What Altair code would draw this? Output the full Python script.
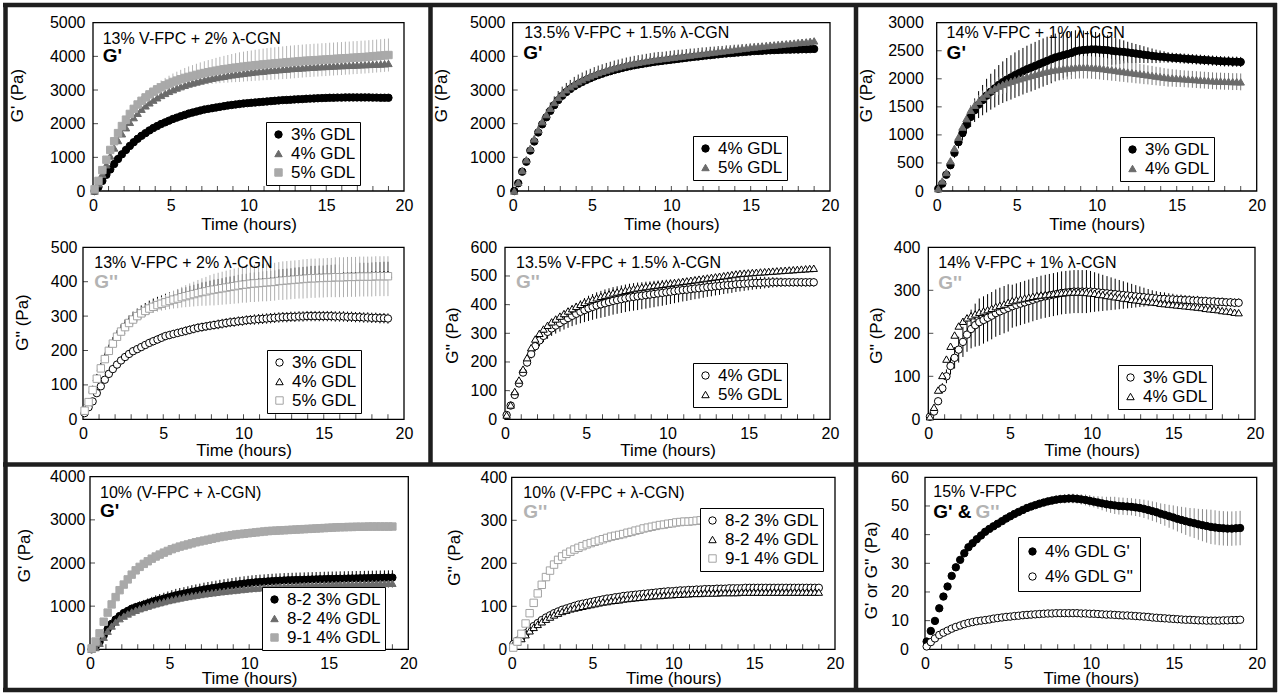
import altair as alt
import pandas as pd

# ---------------- data ----------------
TIME = [0.10, 0.35, 0.60, 0.86, 1.11, 1.36, 1.61, 1.86, 2.12, 2.37,
        2.62, 2.87, 3.12, 3.38, 3.63, 3.88, 4.13, 4.38, 4.64, 4.89,
        5.14, 5.39, 5.64, 5.90, 6.15, 6.40, 6.65, 6.90, 7.16, 7.41,
        7.66, 7.91, 8.16, 8.42, 8.67, 8.92, 9.17, 9.42, 9.68, 9.93,
        10.18, 10.43, 10.68, 10.94, 11.19, 11.44, 11.69, 11.94, 12.20, 12.45,
        12.70, 12.95, 13.20, 13.46, 13.71, 13.96, 14.21, 14.46, 14.72, 14.97,
        15.22, 15.47, 15.72, 15.98, 16.23, 16.48, 16.73, 16.98, 17.24, 17.49,
        17.74, 17.99, 18.24, 18.50, 18.75, 19.00]

# Panel 1: 13% V-FPC + 2% CGN, G'
P1_G3 = [0, 120, 300, 480, 640, 800, 950, 1090, 1220, 1340,
         1450, 1550, 1640, 1720, 1800, 1870, 1930, 1990, 2040, 2090,
         2140, 2180, 2220, 2260, 2300, 2330, 2360, 2390, 2420, 2440,
         2460, 2480, 2500, 2520, 2540, 2555, 2570, 2585, 2600, 2610,
         2620, 2630, 2640, 2650, 2660, 2670, 2680, 2690, 2700, 2705,
         2710, 2720, 2725, 2730, 2740, 2745, 2750, 2755, 2760, 2765,
         2770, 2770, 2775, 2775, 2780, 2780, 2780, 2780, 2780, 2780,
         2780, 2775, 2775, 2770, 2770, 2770]
P1_G4 = [0, 220, 500, 780, 1040, 1280, 1500, 1700, 1880, 2040,
         2180, 2310, 2430, 2530, 2620, 2700, 2770, 2840, 2900, 2960,
         3010, 3060, 3100, 3140, 3180, 3210, 3240, 3270, 3300, 3325,
         3350, 3370, 3390, 3410, 3430, 3450, 3465, 3480, 3495, 3510,
         3525, 3540, 3550, 3560, 3575, 3585, 3595, 3605, 3615, 3625,
         3635, 3645, 3650, 3660, 3665, 3675, 3680, 3690, 3695, 3700,
         3710, 3715, 3720, 3725, 3730, 3735, 3740, 3745, 3750, 3755,
         3760, 3765, 3770, 3775, 3780, 3790]
P1_G5 = [50, 300, 620, 930, 1220, 1480, 1720, 1930, 2120, 2290,
         2440, 2570, 2680, 2780, 2870, 2950, 3020, 3080, 3140, 3190,
         3240, 3280, 3320, 3360, 3390, 3420, 3450, 3480, 3505, 3530,
         3550, 3575, 3595, 3615, 3630, 3650, 3665, 3680, 3695, 3710,
         3720, 3735, 3745, 3760, 3770, 3780, 3790, 3800, 3810, 3820,
         3830, 3840, 3850, 3860, 3870, 3875, 3885, 3890, 3900, 3905,
         3915, 3920, 3930, 3935, 3945, 3950, 3960, 3965, 3975, 3980,
         3990, 4000, 4010, 4020, 4030, 4040]
P1_E5 = [20, 30, 40, 50, 60, 70, 80, 90, 100, 110,
         120, 130, 140, 150, 160, 175, 190, 205, 220, 235,
         250, 265, 280, 295, 310, 320, 330, 340, 350, 360,
         370, 380, 390, 400, 410, 420, 430, 440, 445, 450,
         455, 460, 465, 470, 475, 480, 480, 485, 485, 490,
         490, 490, 490, 490, 490, 490, 490, 490, 490, 490,
         490, 490, 490, 490, 490, 490, 490, 490, 490, 490,
         490, 490, 490, 490, 490, 490]

# Panel 2: 13% V-FPC + 2% CGN, G''
P2_G3 = [18, 35, 52, 76, 96, 115, 132, 146, 159, 171,
         181, 190, 198, 204, 210, 216, 222, 227, 232, 237,
         242, 245, 248, 251, 254, 257, 260, 263, 266, 268,
         270, 272, 274, 276, 278, 280, 282, 283, 285, 286,
         288, 289, 290, 291, 292, 293, 294, 295, 296, 297,
         297, 298, 298, 299, 299, 300, 300, 300, 300, 300,
         300, 300, 299, 299, 299, 298, 298, 297, 297, 296,
         296, 295, 295, 294, 294, 293]
P2_E3 = [2, 3, 4, 5, 6, 7, 8, 8, 9, 9,
         10, 10, 10, 11, 11, 11, 12, 12, 12, 12,
         12, 12, 12, 12, 12, 13, 13, 13, 13, 13,
         13, 13, 13, 14, 14, 14, 14, 14, 14, 14,
         14, 14, 15, 15, 15, 15, 15, 15, 15, 15,
         15, 15, 15, 15, 15, 15, 15, 15, 15, 15,
         15, 15, 15, 15, 15, 15, 15, 15, 15, 15,
         15, 15, 15, 15, 15, 15]
P2_G4 = [24, 52, 88, 122, 152, 179, 203, 224, 243, 259,
         272, 284, 294, 303, 311, 318, 325, 330, 335, 339,
         343, 347, 351, 354, 358, 361, 364, 367, 370, 373,
         375, 378, 380, 382, 384, 386, 388, 390, 392, 394,
         395, 397, 398, 399, 400, 401, 402, 403, 405, 406,
         407, 408, 409, 410, 411, 412, 413, 413, 414, 414,
         415, 415, 416, 416, 417, 417, 418, 418, 419, 419,
         419, 420, 420, 420, 421, 421]
P2_E4 = [4, 6, 8, 10, 12, 13, 14, 15, 16, 17,
         18, 18, 19, 19, 20, 20, 20, 21, 21, 21,
         22, 22, 22, 23, 23, 23, 24, 24, 24, 25,
         25, 25, 26, 26, 26, 27, 27, 27, 28, 28,
         28, 29, 29, 29, 30, 30, 30, 30, 31, 31,
         31, 31, 32, 32, 32, 32, 33, 33, 33, 33,
         34, 34, 34, 34, 35, 35, 35, 35, 36, 36,
         36, 36, 37, 37, 37, 37]
P2_G5 = [25, 50, 85, 118, 148, 175, 199, 220, 240, 255,
         268, 280, 290, 300, 308, 315, 322, 327, 332, 336,
         340, 344, 348, 351, 355, 358, 361, 364, 367, 370,
         372, 375, 377, 379, 381, 383, 385, 387, 389, 391,
         392, 394, 395, 396, 397, 398, 399, 400, 402, 403,
         404, 405, 406, 407, 408, 409, 410, 410, 411, 411,
         412, 412, 413, 413, 413, 414, 414, 414, 415, 415,
         415, 415, 416, 416, 416, 416]
P2_E5 = [5, 5, 6, 6, 7, 8, 9, 10, 10, 11,
         12, 12, 13, 14, 15, 16, 17, 18, 19, 20,
         22, 24, 26, 28, 30, 32, 34, 36, 38, 40,
         42, 44, 46, 47, 48, 49, 50, 51, 52, 52,
         53, 53, 54, 54, 54, 55, 55, 55, 55, 56,
         56, 56, 56, 56, 57, 57, 57, 57, 57, 57,
         57, 57, 58, 58, 58, 58, 58, 58, 58, 58,
         58, 58, 58, 58, 58, 58]

# Panel 3: 13.5% V-FPC + 1.5% CGN, G'
P3_G4 = [0, 230, 575, 870, 1200, 1470, 1740, 1980, 2190, 2380,
         2550, 2700, 2830, 2940, 3030, 3110, 3180, 3240, 3300, 3350,
         3400, 3445, 3485, 3525, 3560, 3595, 3625, 3655, 3685, 3710,
         3735, 3755, 3775, 3795, 3815, 3835, 3850, 3865, 3880, 3895,
         3910, 3925, 3940, 3955, 3970, 3985, 3995, 4010, 4025, 4035,
         4050, 4060, 4075, 4085, 4095, 4105, 4115, 4125, 4135, 4145,
         4155, 4160, 4165, 4175, 4180, 4185, 4190, 4195, 4200, 4200,
         4205, 4205, 4210, 4210, 4215, 4220]
P3_G5 = [0, 260, 610, 930, 1270, 1550, 1820, 2060, 2270, 2460,
         2630, 2780, 2900, 3010, 3100, 3180, 3250, 3310, 3370, 3420,
         3470, 3515, 3555, 3595, 3630, 3665, 3695, 3725, 3755, 3780,
         3805, 3825, 3845, 3865, 3885, 3905, 3920, 3935, 3950, 3965,
         3980, 3995, 4010, 4025, 4040, 4055, 4070, 4085, 4100, 4115,
         4130, 4145, 4160, 4175, 4190, 4205, 4220, 4235, 4250, 4265,
         4280, 4290, 4305, 4315, 4330, 4340, 4350, 4365, 4375, 4385,
         4395, 4410, 4420, 4430, 4445, 4460]
P3_E5 = [0, 20, 40, 60, 80, 100, 120, 140, 160, 170,
         180, 190, 200, 200, 200, 210, 210, 210, 210, 210,
         210, 210, 210, 210, 210, 210, 210, 210, 210, 210,
         210, 210, 210, 210, 210, 210, 210, 200, 200, 200,
         200, 200, 190, 190, 190, 180, 180, 180, 170, 170,
         160, 160, 150, 150, 140, 140, 130, 130, 120, 120,
         110, 110, 100, 100, 100, 90, 90, 90, 80, 80,
         80, 80, 80, 80, 80, 80]

# Panel 4: 13.5% V-FPC + 1.5% CGN, G''
P4_G4 = [15, 48, 85, 125, 163, 198, 228, 255, 275, 291,
         305, 317, 327, 336, 345, 353, 361, 368, 375, 381,
         387, 392, 397, 401, 405, 409, 413, 416, 419, 422,
         425, 427, 429, 431, 433, 435, 437, 439, 441, 443,
         445, 447, 449, 451, 452, 454, 456, 457, 459, 461,
         462, 464, 465, 467, 468, 469, 471, 472, 473, 474,
         475, 476, 476, 477, 477, 478, 478, 478, 478, 478,
         478, 478, 478, 478, 478, 478]
P4_E4 = [5, 6, 8, 10, 12, 14, 16, 18, 20, 22,
         24, 26, 28, 30, 32, 34, 36, 38, 40, 42,
         44, 45, 46, 47, 48, 48, 48, 48, 48, 48,
         48, 48, 48, 47, 47, 46, 46, 45, 45, 44,
         43, 42, 41, 40, 39, 38, 37, 36, 35, 34,
         33, 32, 31, 30, 29, 28, 27, 26, 25, 24,
         23, 22, 21, 20, 19, 18, 17, 16, 15, 15,
         15, 15, 15, 15, 15, 15]
P4_G5 = [15, 50, 97, 137, 175, 215, 250, 280, 300, 315,
         328, 340, 350, 360, 369, 378, 386, 394, 401, 408,
         414, 419, 424, 429, 433, 437, 441, 444, 447, 450,
         453, 456, 459, 461, 463, 465, 467, 469, 471, 473,
         475, 477, 479, 481, 483, 485, 487, 489, 491, 493,
         495, 497, 499, 501, 503, 505, 507, 509, 510, 511,
         512, 513, 514, 515, 516, 517, 518, 519, 520, 521,
         522, 523, 524, 525, 526, 527]

# Panel 5: 14% V-FPC + 1% CGN, G'
P5_G3 = [40, 130, 290, 460, 680, 870, 1030, 1180, 1320, 1440,
         1540, 1620, 1700, 1770, 1830, 1890, 1940, 1985, 2025, 2065,
         2100, 2135, 2170, 2200, 2230, 2260, 2290, 2320, 2350, 2380,
         2400, 2420, 2440, 2460, 2490, 2505, 2515, 2520, 2525, 2525,
         2520, 2515, 2510, 2500, 2490, 2485, 2480, 2470, 2460, 2450,
         2440, 2430, 2420, 2410, 2400, 2395, 2390, 2380, 2375, 2370,
         2365, 2360, 2355, 2350, 2345, 2340, 2335, 2330, 2325, 2320,
         2315, 2310, 2310, 2305, 2305, 2300]
P5_E3 = [10, 30, 50, 70, 90, 110, 130, 150, 180, 210,
         240, 270, 300, 320, 340, 355, 370, 385, 395, 405,
         410, 415, 420, 425, 428, 430, 430, 430, 430, 425,
         420, 410, 400, 390, 375, 360, 345, 330, 320, 310,
         295, 280, 265, 250, 235, 220, 205, 190, 180, 170,
         160, 150, 140, 130, 120, 110, 100, 95, 90, 90,
         90, 90, 90, 90, 90, 90, 90, 90, 90, 90,
         90, 90, 90, 90, 90, 90]
P5_G4 = [40, 180, 330, 540, 760, 960, 1140, 1290, 1440, 1530,
         1600, 1670, 1730, 1790, 1830, 1870, 1900, 1930, 1955, 1980,
         2000, 2020, 2040, 2060, 2080, 2100, 2120, 2135, 2150, 2160,
         2170, 2180, 2190, 2195, 2200, 2205, 2205, 2205, 2200, 2195,
         2190, 2180, 2170, 2160, 2150, 2140, 2130, 2120, 2110, 2100,
         2090, 2080, 2070, 2060, 2050, 2040, 2030, 2020, 2015, 2010,
         2005, 2000, 1995, 1990, 1985, 1980, 1975, 1970, 1965, 1960,
         1960, 1955, 1955, 1950, 1950, 1945]
P5_E4 = [10, 20, 30, 40, 50, 60, 70, 80, 90, 100,
         110, 120, 130, 140, 150, 160, 170, 180, 190, 200,
         200, 200, 200, 200, 200, 200, 200, 200, 200, 200,
         200, 200, 200, 200, 200, 200, 200, 200, 200, 200,
         200, 200, 195, 195, 190, 190, 185, 185, 180, 180,
         175, 175, 170, 170, 165, 165, 160, 160, 155, 155,
         150, 150, 150, 150, 150, 150, 150, 150, 150, 150,
         150, 150, 150, 150, 150, 150]

# Panel 6: 14% V-FPC + 1% CGN, G''
P6_G3 = [6, 18, 42, 72, 100, 124, 143, 162, 180, 197,
         210, 219, 226, 231, 236, 241, 247, 251, 255, 259,
         263, 266, 269, 272, 275, 278, 281, 284, 286, 288,
         290, 292, 294, 295, 296, 297, 297, 297, 297, 297,
         296, 295, 294, 293, 292, 291, 290, 289, 288, 287,
         286, 285, 284, 283, 282, 281, 280, 280, 279, 279,
         278, 278, 277, 277, 276, 276, 275, 275, 274, 274,
         273, 273, 272, 272, 271, 271]
P6_E3 = [3, 5, 8, 12, 16, 20, 25, 30, 35, 40,
         45, 50, 55, 55, 55, 55, 55, 55, 55, 55,
         50, 50, 50, 50, 50, 50, 50, 50, 50, 50,
         50, 50, 50, 50, 50, 50, 50, 50, 50, 48,
         46, 44, 42, 40, 38, 36, 34, 32, 30, 28,
         26, 24, 22, 20, 18, 17, 16, 15, 14, 13,
         12, 12, 12, 11, 11, 11, 10, 10, 10, 10,
         10, 10, 10, 10, 10, 10]
P6_G4 = [6, 28, 68, 102, 140, 170, 196, 217, 228, 236,
         241, 245, 249, 252, 255, 258, 262, 265, 268, 272,
         276, 278, 280, 282, 284, 286, 288, 289, 290, 291,
         292, 293, 294, 295, 296, 296, 296, 296, 295, 294,
         293, 291, 290, 288, 287, 285, 284, 282, 281, 279,
         278, 277, 275, 274, 273, 272, 270, 269, 268, 267,
         266, 265, 264, 263, 262, 261, 260, 258, 257, 256,
         255, 253, 252, 251, 249, 248]

# Panel 7: 10% (V-FPC + CGN), G'
P7_G3 = [0, 60, 170, 320, 470, 590, 690, 770, 840, 890,
         940, 975, 1005, 1035, 1065, 1095, 1125, 1150, 1175, 1200,
         1225, 1250, 1270, 1290, 1310, 1330, 1348, 1366, 1384, 1400,
         1415, 1430, 1445, 1460, 1473, 1486, 1498, 1510, 1522, 1533,
         1544, 1552, 1560, 1567, 1574, 1580, 1586, 1591, 1596, 1600,
         1603, 1606, 1609, 1612, 1615, 1618, 1621, 1624, 1627, 1630,
         1632, 1634, 1636, 1638, 1640, 1642, 1644, 1646, 1648, 1650,
         1652, 1654, 1656, 1658, 1660, 1662]
P7_E3 = [0, 10, 20, 30, 40, 50, 60, 70, 80, 90,
         95, 100, 105, 110, 115, 120, 125, 130, 135, 140,
         145, 150, 150, 150, 150, 155, 155, 155, 160, 160,
         160, 160, 165, 165, 165, 165, 170, 170, 170, 170,
         170, 170, 170, 170, 170, 170, 170, 170, 170, 170,
         170, 170, 170, 170, 170, 170, 170, 170, 170, 170,
         170, 170, 170, 170, 170, 170, 170, 170, 170, 170,
         170, 170, 170, 170, 170, 170]
P7_G4 = [0, 40, 140, 280, 420, 540, 630, 710, 770, 820,
         865, 905, 940, 970, 1000, 1030, 1055, 1080, 1105, 1130,
         1150, 1170, 1190, 1210, 1225, 1240, 1255, 1270, 1285, 1298,
         1310, 1322, 1334, 1345, 1355, 1365, 1375, 1385, 1395, 1405,
         1413, 1420, 1427, 1434, 1440, 1446, 1452, 1457, 1462, 1466,
         1470, 1474, 1478, 1481, 1484, 1487, 1490, 1493, 1496, 1499,
         1502, 1504, 1506, 1508, 1510, 1512, 1514, 1516, 1518, 1520,
         1522, 1524, 1526, 1528, 1529, 1530]
P7_E4 = [0, 10, 20, 30, 40, 50, 55, 60, 65, 70,
         75, 80, 85, 90, 90, 95, 95, 100, 100, 100,
         100, 100, 100, 100, 100, 100, 100, 100, 100, 100,
         100, 100, 100, 100, 100, 100, 100, 100, 100, 100,
         100, 100, 100, 100, 100, 100, 100, 100, 100, 100,
         100, 100, 100, 100, 100, 100, 100, 100, 100, 100,
         100, 100, 100, 100, 100, 100, 100, 100, 100, 100,
         100, 100, 100, 100, 100, 100]
P7_G91 = [20, 180, 370, 640, 850, 1040, 1210, 1370, 1500, 1620,
          1730, 1830, 1910, 1980, 2040, 2100, 2150, 2195, 2240, 2280,
          2320, 2350, 2380, 2405, 2430, 2455, 2480, 2500, 2520, 2540,
          2560, 2580, 2600, 2615, 2630, 2645, 2660, 2670, 2680, 2690,
          2700, 2710, 2720, 2730, 2740, 2745, 2750, 2755, 2760, 2765,
          2770, 2775, 2780, 2785, 2790, 2795, 2800, 2805, 2810, 2815,
          2820, 2825, 2830, 2830, 2835, 2835, 2840, 2840, 2840, 2845,
          2845, 2845, 2845, 2845, 2845, 2845]

# Panel 8: 10% (V-FPC + CGN), G''
P8_G3 = [12, 20, 28, 37, 46, 54, 61, 68, 74, 79,
         84, 88, 92, 95, 98, 101, 104, 106, 108, 110,
         112, 114, 116, 118, 119, 121, 122, 124, 125, 126,
         127, 128, 129, 130, 131, 132, 133, 134, 135, 135,
         136, 137, 137, 138, 138, 139, 139, 140, 140, 140,
         141, 141, 141, 142, 142, 142, 142, 143, 143, 143,
         143, 143, 143, 143, 143, 143, 143, 143, 143, 143,
         143, 143, 143, 143, 143, 143]
P8_G4 = [10, 17, 25, 34, 43, 51, 58, 64, 70, 75,
         80, 84, 88, 91, 94, 96, 98, 100, 102, 104,
         106, 108, 110, 111, 113, 114, 115, 117, 118, 119,
         120, 121, 122, 123, 124, 125, 125, 126, 127, 127,
         128, 128, 129, 129, 130, 130, 130, 131, 131, 131,
         131, 132, 132, 132, 132, 132, 133, 133, 133, 133,
         133, 133, 133, 133, 133, 133, 133, 133, 133, 133,
         133, 133, 133, 133, 133, 133]
P8_G91 = [4, 18, 36, 60, 84, 108, 130, 150, 168, 183,
          197, 208, 216, 222, 227, 232, 236, 240, 244, 247,
          250, 253, 256, 259, 262, 264, 266, 268, 271, 273,
          276, 278, 281, 283, 285, 287, 289, 290, 292, 293,
          295, 296, 297, 297, 298, 299, 300, 300, 301, 301,
          302, 302, 303, 303, 303, 304, 304, 304, 305, 305,
          305, 305, 306, 306, 306, 306, 306, 307, 307, 307,
          307, 307, 308, 308, 308, 308]

# Panel 9: 15% V-FPC, G' and G''
P9_G1 = [2.7, 6.4, 9.9, 14.3, 18.4, 21.9, 25.6, 28.6, 31.2, 33.5,
         35.6, 37.0, 38.4, 39.7, 41.0, 42.0, 42.9, 43.8, 44.7, 45.6,
         46.4, 47.2, 47.9, 48.6, 49.3, 49.8, 50.3, 50.8, 51.2, 51.6,
         51.9, 52.2, 52.4, 52.5, 52.6, 52.6, 52.5, 52.3, 52.1, 51.8,
         51.5, 51.2, 50.9, 50.6, 50.4, 50.2, 50.0, 49.9, 49.8, 49.7,
         49.5, 49.3, 49.0, 48.6, 48.2, 47.8, 47.3, 46.9, 46.4, 46.0,
         45.5, 45.1, 44.7, 44.3, 44.0, 43.6, 43.3, 43.0, 42.7, 42.5,
         42.3, 42.2, 42.1, 42.1, 42.2, 42.3]
P9_E1 = [0.3, 0.3, 0.4, 0.4, 0.5, 0.5, 0.6, 0.6, 0.7, 0.7,
         0.8, 0.8, 0.8, 0.9, 0.9, 0.9, 1.0, 1.0, 1.0, 1.0,
         1.1, 1.1, 1.1, 1.2, 1.2, 1.2, 1.3, 1.3, 1.3, 1.4,
         1.4, 1.5, 1.5, 1.6, 1.6, 1.7, 1.7, 1.8, 1.9, 2.0,
         2.0, 2.2, 2.4, 2.6, 2.8, 3.0, 3.0, 3.0, 3.0, 3.0,
         3.0, 3.1, 3.2, 3.3, 3.4, 3.5, 3.6, 3.8, 4.0, 4.2,
         4.4, 4.6, 4.8, 5.0, 5.2, 5.4, 5.6, 5.8, 6.0, 6.0,
         6.0, 6.0, 6.0, 6.0, 6.0, 6.0]
P9_G2 = [1.0, 2.5, 3.8, 5.0, 5.8, 6.5, 7.2, 7.8, 8.3, 8.8,
         9.2, 9.5, 9.8, 10.0, 10.2, 10.4, 10.7, 10.9, 11.1, 11.3,
         11.4, 11.6, 11.7, 11.9, 12.0, 12.1, 12.2, 12.3, 12.4, 12.5,
         12.5, 12.6, 12.6, 12.6, 12.6, 12.6, 12.6, 12.5, 12.5, 12.4,
         12.4, 12.3, 12.2, 12.1, 12.1, 12.0, 11.9, 11.8, 11.8, 11.7,
         11.6, 11.5, 11.4, 11.3, 11.1, 11.0, 10.9, 10.8, 10.7, 10.6,
         10.5, 10.4, 10.3, 10.3, 10.2, 10.1, 10.1, 10.0, 10.0, 10.0,
         10.0, 10.1, 10.1, 10.2, 10.2, 10.3]

# ---------------- styling ----------------
FONT = "Liberation Sans"
BLACK = "#000000"
DGRAY = "#6b6b6b"
LGRAY = "#a9a9a9"
OSQ = "#a3a3a3"
TGRAY = "#b3b3b3"
WHITE = "#ffffff"

# series tuple: (label, values, shape, fill, stroke, err, mode, errcolor)
PANELS = [
    dict(xr=(93, 404), yr=(191, 22.7), ymax=5000, ystep=1000, ytitle="G' (Pa)",
         ylp=8, ytx=17.5, yty=95, xty=33, legend=(266, 122, 4, 1),
         series=[("3% GDL", P1_G3, "circle", BLACK, BLACK, None, None, None),
                 ("4% GDL", P1_G4, "triangle-up", DGRAY, DGRAY, None, None, None),
                 ("5% GDL", P1_G5, "square", LGRAY, LGRAY, P1_E5, "both", "#b5b5b5")],
         ann=[("13% V-FPC + 2% λ-CGN", 0.62, 4516, 16, "normal", BLACK),
              ("G'", 0.62, 4010, 19, "bold", BLACK)]),
    dict(xr=(83, 404), yr=(419.3, 247.3), ymax=500, ystep=100, ytitle="G'' (Pa)",
         ylp=6, ytx=22.5, yty=322, xty=31, legend=(267, 350, 4, 1),
         series=[("3% GDL", P2_G3, "circle", WHITE, BLACK, P2_E3, "both", BLACK),
                 ("4% GDL", P2_G4, "triangle-up", WHITE, BLACK, P2_E4, "plus", BLACK),
                 ("5% GDL", P2_G5, "square", WHITE, OSQ, P2_E5, "both", "#b0b0b0")],
         ann=[("13% V-FPC + 2% λ-CGN", 0.70, 454, 16, "normal", BLACK),
              ("G''", 0.70, 400, 19, "bold", TGRAY)]),
    dict(xr=(512.7, 830), yr=(191, 22.7), ymax=5000, ystep=1000, ytitle="G' (Pa)",
         ylp=7.7, ytx=441, yty=95, xty=33, legend=(693, 136, 4, 1),
         series=[("4% GDL", P3_G4, "circle", BLACK, BLACK, None, None, None),
                 ("5% GDL", P3_G5, "triangle-up", DGRAY, DGRAY, P3_E5, "plus", "#222222")],
         ann=[("13.5% V-FPC + 1.5% λ-CGN", 0.73, 4685, 16, "normal", BLACK),
              ("G'", 0.67, 4091, 19, "bold", BLACK)]),
    dict(xr=(505, 830), yr=(419.3, 247.3), ymax=600, ystep=100, ytitle="G'' (Pa)",
         ylp=8.3, ytx=452.5, yty=335, xty=31, legend=(693, 363, 4, 1),
         series=[("4% GDL", P4_G4, "circle", WHITE, BLACK, P4_E4, "both", BLACK),
                 ("5% GDL", P4_G5, "triangle-up", WHITE, BLACK, None, None, None)],
         ann=[("13.5% V-FPC + 1.5% λ-CGN", 0.68, 544, 16, "normal", BLACK),
              ("G''", 0.68, 480, 19, "bold", TGRAY)]),
    dict(xr=(936.7, 1256.7), yr=(191, 22.7), ymax=3000, ystep=500, ytitle="G' (Pa)",
         ylp=13.4, ytx=866, yty=95, xty=33, legend=(1120, 137, 4, 1),
         series=[("3% GDL", P5_G3, "circle", BLACK, BLACK, P5_E3, "both", BLACK),
                 ("4% GDL", P5_G4, "triangle-up", DGRAY, DGRAY, P5_E4, "both", "#7a7a7a")],
         ann=[("14% V-FPC + 1% λ-CGN", 0.62, 2811, 16, "normal", BLACK),
              ("G'", 0.62, 2455, 19, "bold", BLACK)]),
    dict(xr=(928.3, 1255), yr=(419.3, 247.3), ymax=400, ystep=100, ytitle="G'' (Pa)",
         ylp=8.3, ytx=876, yty=335, xty=31, legend=(1118, 365, 4, 1),
         series=[("3% GDL", P6_G3, "circle", WHITE, BLACK, P6_E3, "both", BLACK),
                 ("4% GDL", P6_G4, "triangle-up", WHITE, BLACK, None, None, None)],
         ann=[("14% V-FPC + 1% λ-CGN", 0.61, 363, 16, "normal", BLACK),
              ("G''", 0.61, 316, 19, "bold", TGRAY)]),
    dict(xr=(90, 408.3), yr=(649.3, 476.7), ymax=4000, ystep=1000, ytitle="G' (Pa)",
         ylp=5, ytx=24, yty=555, xty=29.5, legend=(262, 587, 4, 1),
         series=[("8-2 3% GDL", P7_G3, "circle", BLACK, BLACK, P7_E3, "both", BLACK),
                 ("8-2 4% GDL", P7_G4, "triangle-up", DGRAY, DGRAY, P7_E4, "both", "#555555"),
                 ("9-1 4% GDL", P7_G91, "square", LGRAY, LGRAY, None, None, None)],
         ann=[("10% (V-FPC + λ-CGN)", 0.63, 3615, 16, "normal", BLACK),
              ("G'", 0.63, 3210, 19, "bold", BLACK)]),
    dict(xr=(511.7, 835), yr=(649.3, 477.3), ymax=400, ystep=100, ytitle="G'' (Pa)",
         ylp=5, ytx=454, yty=557, xty=29.5, legend=(700, 508, 4, 1),
         series=[("8-2 3% GDL", P8_G3, "circle", WHITE, BLACK, None, None, None),
                 ("8-2 4% GDL", P8_G4, "triangle-up", WHITE, BLACK, None, None, None),
                 ("9-1 4% GDL", P8_G91, "square", WHITE, OSQ, None, None, None)],
         ann=[("10% (V-FPC + λ-CGN)", 0.72, 363, 16, "normal", BLACK),
              ("G''", 0.72, 320, 19, "bold", TGRAY)]),
    dict(xr=(925, 1256.7), yr=(649.3, 477.3), ymax=60, ystep=10, ytitle="G' or G'' (Pa)",
         ylp=16.7, ytx=871, yty=570, xty=29.5, legend=(1018, 537, 6, 7),
         series=[("4% GDL G'", P9_G1, "circle", BLACK, BLACK, P9_E1, "both", "#8a8a8a"),
                 ("4% GDL G''", P9_G2, "circle", WHITE, BLACK, None, None, None)],
         ann=[("15% V-FPC", 0.50, 55, 16, "normal", BLACK),
              ("G' &", 0.50, 48, 19, "bold", BLACK),
              ("G''", 3.05, 48, 19, "bold", TGRAY)]),
]

CANVAS_W, CANVAS_H = 1279, 695


def build_panel(p):
    x0, x1 = p["xr"]
    yb, yt = p["yr"]
    xs = alt.Scale(domain=[0, 20], range=[x0, x1], nice=False, zero=False)
    ys = alt.Scale(domain=[0, p["ymax"]], range=[yb, yt], nice=False, zero=False)
    yticks = list(range(0, p["ymax"] + 1, p["ystep"]))

    labels = [s[0] for s in p["series"]]
    shapes = [s[2] for s in p["series"]]
    fills = [s[3] for s in p["series"]]
    strokes = [s[4] for s in p["series"]]

    pts_rows, err_rows = [], []
    for (lab, vals, shp, fil, stk, err, mode, ecol) in p["series"]:
        for t, v in zip(TIME, vals):
            pts_rows.append({"t": t, "v": v, "s": lab})
        if err is not None:
            for t, v, e in zip(TIME, vals, err):
                lo = v if mode == "plus" else max(v - e, 0)
                err_rows.append({"t": t, "lo": lo, "hi": v + e, "ec": ecol})

    lx, ly, pad, rp = p["legend"]
    leg = alt.Legend(title=None, orient="none", legendX=lx, legendY=ly,
                     fillColor="white", strokeColor="black", padding=pad,
                     rowPadding=rp, labelFont=FONT, labelFontSize=17,
                     labelColor="black", symbolSize=55, symbolStrokeWidth=1,
                     labelOffset=4)

    xaxis = alt.Axis(orient="bottom", offset=yb - CANVAS_H, values=[0, 5, 10, 15, 20],
                     format="d", title="Time (hours)", labelFlush=False, ticks=False,
                     domain=False, grid=False, labelPadding=6, labelOverlap=False,
                     titleY=p["xty"], titleBaseline="middle")
    yaxis = alt.Axis(orient="left", offset=-x0, values=yticks, format="d",
                     title=p["ytitle"], ticks=False, domain=False, grid=False,
                     labelPadding=p["ylp"], labelOverlap=False, labelFlush=False,
                     titleX=p["ytx"] - x0, titleY=p["yty"], titleBaseline="middle")

    # points layer carries the panel's axes and legend
    pts = alt.Chart(pd.DataFrame(pts_rows)).mark_point(size=55, opacity=1, strokeWidth=1).encode(
        x=alt.X("t:Q", scale=xs, axis=xaxis),
        y=alt.Y("v:Q", scale=ys, axis=yaxis),
        shape=alt.Shape("s:N", scale=alt.Scale(domain=labels, range=shapes), legend=leg),
        fill=alt.Fill("s:N", scale=alt.Scale(domain=labels, range=fills), legend=leg),
        stroke=alt.Stroke("s:N", scale=alt.Scale(domain=labels, range=strokes), legend=leg),
    )

    frame = alt.Chart(pd.DataFrame({"a": [0], "b": [20], "c": [0], "d": [p["ymax"]]})).mark_rect(
        fillOpacity=0, stroke="black", strokeWidth=1.3).encode(
        x=alt.X("a:Q", scale=xs), x2="b:Q",
        y=alt.Y("c:Q", scale=ys), y2="d:Q")

    xt = alt.Chart(pd.DataFrame({"t": list(range(1, 20)), "z": [0] * 19})).mark_tick(
        orient="vertical", size=5, thickness=1, color="black", yOffset=-2.5).encode(
        x=alt.X("t:Q", scale=xs), y=alt.Y("z:Q", scale=ys))

    inner = yticks[1:-1]
    ytk = alt.Chart(pd.DataFrame({"z": [0] * len(inner), "v": inner})).mark_tick(
        orient="horizontal", size=5, thickness=1, color="black", xOffset=2.5).encode(
        x=alt.X("z:Q", scale=xs), y=alt.Y("v:Q", scale=ys))

    layers = [frame, xt, ytk]
    if err_rows:
        layers.append(alt.Chart(pd.DataFrame(err_rows)).mark_rule(strokeWidth=1).encode(
            x=alt.X("t:Q", scale=xs),
            y=alt.Y("lo:Q", scale=ys), y2="hi:Q",
            color=alt.Color("ec:N", scale=None)))
    layers.append(pts)

    for weight in ["normal", "bold"]:
        rows = [{"label": a[0], "t": a[1], "v": a[2], "fs": a[3], "col": a[5]}
                for a in p["ann"] if a[4] == weight]
        if rows:
            layers.append(alt.Chart(pd.DataFrame(rows)).mark_text(
                align="left", baseline="middle", font=FONT, fontWeight=weight).encode(
                x=alt.X("t:Q", scale=xs),
                y=alt.Y("v:Q", scale=ys),
                text="label:N",
                size=alt.Size("fs:Q", scale=None),
                color=alt.Color("col:N", scale=None)))
    return alt.layer(*layers)


# thick section borders (pixel positions of the figure layout)
BORDERS = pd.DataFrame({
    "x":  [3, 3, 5.5, 1275, 3, 430.5, 856],
    "x2": [1277, 1277, 5.5, 1275, 1277, 430.5, 856],
    "y":  [5, 690, 3, 3, 464.5, 3, 3],
    "y2": [5, 690, 692, 692, 464.5, 465, 692],
})
borders = alt.Chart(BORDERS).mark_rule(strokeWidth=4.5, color="#1e1e1e").encode(
    x=alt.X("x:Q", scale=None), x2="x2:Q",
    y=alt.Y("y:Q", scale=None), y2="y2:Q")

panels = [build_panel(p) for p in PANELS]

chart = alt.layer(*panels, borders).resolve_scale(
    x="independent", y="independent", shape="independent",
    fill="independent", stroke="independent",
).properties(
    width=CANVAS_W, height=CANVAS_H, padding=0,
    autosize=alt.AutoSizeParams(type="none"), background="white",
).configure_axis(
    labelFont=FONT, labelFontSize=16, labelColor="black",
    titleFont=FONT, titleFontSize=17, titleFontWeight="normal", titleColor="black",
).configure_view(strokeWidth=0)

chart.save("out.html", embed_options={"renderer": "svg", "actions": False})
